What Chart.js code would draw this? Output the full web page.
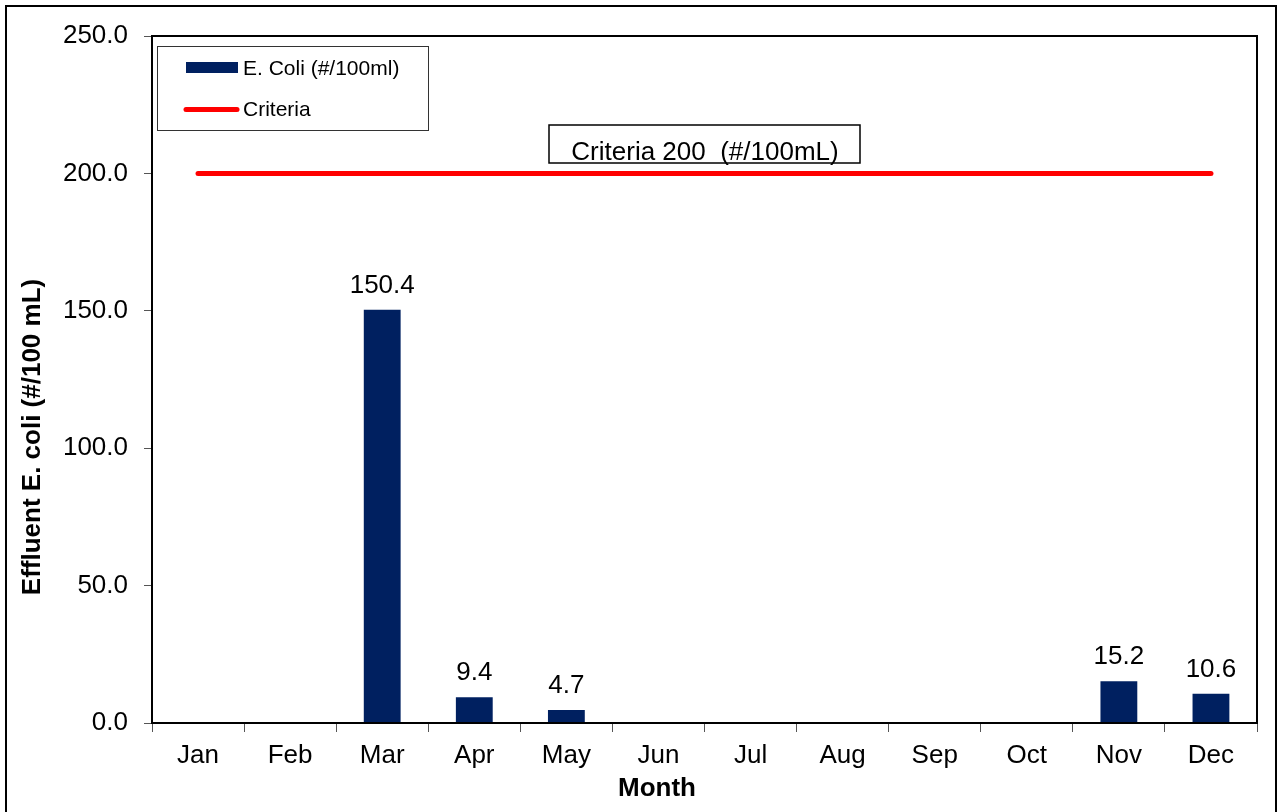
<!DOCTYPE html>
<html>
<head>
<meta charset="utf-8">
<script src="https://cdn.jsdelivr.net/npm/chart.js@4"></script>
<style>
  html, body { margin: 0; padding: 0; background: #fff; }
  #wrap { width: 1280px; height: 812px; position: relative; }
</style>
</head>
<body>
<div id="wrap"><canvas id="c" width="1280" height="812"></canvas></div>
<script>
const months = ['Jan','Feb','Mar','Apr','May','Jun','Jul','Aug','Sep','Oct','Nov','Dec'];
const ecoli = [null, null, 150.4, 9.4, 4.7, null, null, null, null, null, 15.2, 10.6];
const criteria = [200, 200, 200, 200, 200, 200, 200, 200, 200, 200, 200, 200];
const yTicks = [0, 50, 100, 150, 200, 250];
const seriesNames = ['E. Coli (#/100ml)', 'Criteria'];
const annotationText = 'Criteria 200  (#/100mL)';
const yTitle = 'Effluent E. coli (#/100 mL)';
const xTitle = 'Month';

const FONT = "'Liberation Sans', Arial, sans-serif";
const NAVY = '#002060';
const RED = '#FF0000';

const decor = {
  id: 'decor',
  afterDatasetsDraw(chart) {
    const ctx = chart.ctx;
    const a = chart.chartArea;
    ctx.save();
    // data labels
    const meta = chart.getDatasetMeta(0);
    ctx.font = '26px ' + FONT;
    ctx.fillStyle = '#000';
    ctx.textAlign = 'center';
    ctx.textBaseline = 'alphabetic';
    meta.data.forEach((el, i) => {
      const v = ecoli[i];
      if (v === null || v === undefined) return;
      ctx.fillText(v.toFixed(1), el.x, el.y - 17);
    });
    // plot frame
    ctx.strokeStyle = '#000';
    ctx.lineWidth = 2;
    ctx.strokeRect(a.left, a.top, a.right - a.left, a.bottom - a.top);
    // legend box
    ctx.lineWidth = 1;
    ctx.strokeStyle = '#333';
    ctx.fillStyle = '#fff';
    ctx.fillRect(157.5, 46.5, 271, 84);
    ctx.strokeRect(157.5, 46.5, 271, 84);
    ctx.fillStyle = NAVY;
    ctx.fillRect(186, 62, 52, 11);
    ctx.strokeStyle = RED;
    ctx.lineWidth = 5;
    ctx.lineCap = 'round';
    ctx.beginPath(); ctx.moveTo(186, 109.5); ctx.lineTo(237, 109.5); ctx.stroke();
    ctx.fillStyle = '#000';
    ctx.font = '21px ' + FONT;
    ctx.textAlign = 'left';
    ctx.textBaseline = 'alphabetic';
    ctx.fillText(seriesNames[0], 243, 75);
    ctx.fillText(seriesNames[1], 243, 116);
    // annotation box
    ctx.lineWidth = 1.5;
    ctx.strokeStyle = '#000';
    ctx.fillStyle = '#fff';
    ctx.fillRect(549, 125, 311, 38);
    ctx.strokeRect(549, 125, 311, 38);
    ctx.fillStyle = '#000';
    ctx.font = '26px ' + FONT;
    ctx.textAlign = 'center';
    ctx.textBaseline = 'alphabetic';
    ctx.fillText(annotationText, 705, 160);
    // axis titles
    ctx.font = 'bold 26px ' + FONT;
    ctx.textAlign = 'center';
    ctx.textBaseline = 'middle';
    ctx.fillText(xTitle, 657, 789);
    ctx.save();
    ctx.translate(33, 437);
    ctx.rotate(-Math.PI / 2);
    ctx.fillText(yTitle, 0, 0);
    ctx.restore();
    ctx.restore();
  },
  afterDraw(chart) {
    const ctx = chart.ctx;
    ctx.save();
    ctx.strokeStyle = '#000';
    ctx.lineWidth = 2;
    ctx.strokeRect(6, 6, 1270, 830);
    ctx.restore();
  }
};

new Chart(document.getElementById('c'), {
  data: {
    labels: months,
    datasets: [
      {
        type: 'bar',
        label: seriesNames[0],
        data: ecoli,
        backgroundColor: NAVY,
        borderWidth: 0,
        categoryPercentage: 1.0,
        barPercentage: 0.4,
        order: 2
      },
      {
        type: 'line',
        label: seriesNames[1],
        data: criteria,
        borderColor: RED,
        backgroundColor: RED,
        borderWidth: 5,
        borderCapStyle: 'round',
        pointRadius: 0,
        pointHoverRadius: 0,
        fill: false,
        order: 1
      }
    ]
  },
  options: {
    responsive: false,
    animation: false,
    devicePixelRatio: 1,
    layout: { padding: { top: 36, right: 23, bottom: 0, left: 0 } },
    plugins: {
      legend: { display: false },
      tooltip: { enabled: false },
      title: { display: false }
    },
    scales: {
      x: {
        offset: true,
        grid: {
          display: true,
          offset: true,
          drawOnChartArea: false,
          drawTicks: true,
          tickLength: 9,
          tickColor: '#555',
          color: '#555'
        },
        border: { display: false },
        ticks: {
          color: '#000',
          font: { family: FONT, size: 26 },
          padding: 8,
          maxRotation: 0,
          autoSkip: false
        },
        title: { display: false, text: xTitle },
        afterFit(scale) { scale.height = 89; }
      },
      y: {
        min: 0,
        max: 250,
        afterBuildTicks(scale) { scale.ticks = yTicks.map(v => ({ value: v })); },
        grid: {
          display: true,
          drawOnChartArea: false,
          drawTicks: true,
          tickLength: 8,
          tickColor: '#555',
          color: '#555'
        },
        border: { display: false },
        ticks: {
          color: '#000',
          font: { family: FONT, size: 26 },
          padding: 16,
          callback: (v) => Number(v).toFixed(1)
        },
        title: { display: false, text: yTitle },
        afterFit(scale) { scale.width = 152; }
      }
    }
  },
  plugins: [decor]
});
</script>
</body>
</html>
